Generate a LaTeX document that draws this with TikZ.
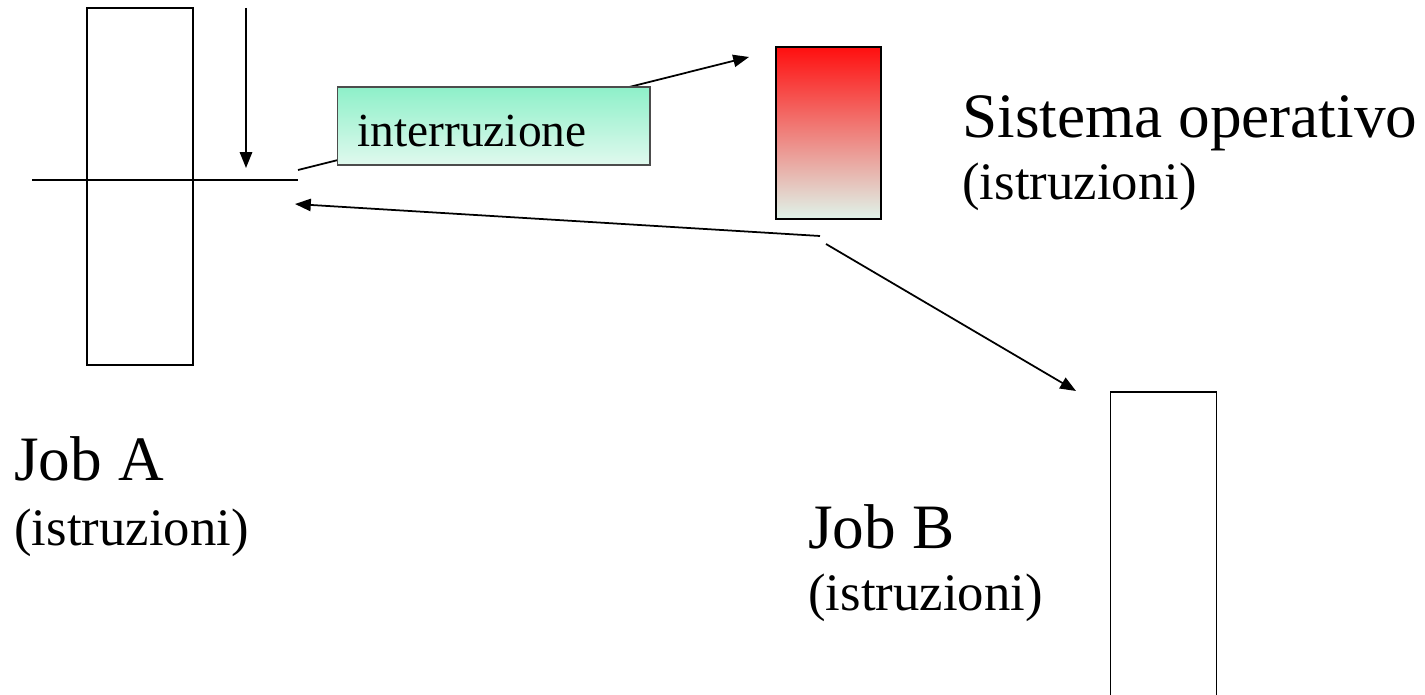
\documentclass[tikz,border=0pt]{standalone}
\usepackage{fontspec}
\setmainfont{Liberation Serif}
\usetikzlibrary{arrows.meta}

\definecolor{irqtop}{HTML}{8EF0C9}
\definecolor{irqbot}{HTML}{E0F9EE}
\definecolor{ostop}{HTML}{FF0F0F}
\definecolor{osbot}{HTML}{DFF4EA}

\tikzset{
  job/.style={draw, line width=1pt, inner sep=0pt, minimum width=2.12cm},
  lbl/.style={inner sep=0pt, anchor=base west},
  arr/.style={line width=1pt, -{Triangle[length=9pt,width=7pt]}}
}

\begin{document}
\begin{tikzpicture}[x=0.02cm,y=-0.02cm]
\useasboundingbox (0,0) rectangle (1425,695);

% draw job boxes
\node[job, minimum height=7.14cm] (jobA) at (140,186.5) {};
\node[job, minimum height=6.16cm] (jobB) at (1163.5,546) {};
\node[job, minimum width=2.1cm, minimum height=3.44cm,
      top color=ostop, bottom color=osbot] (os) at (828.5,133) {};

% draw the point where job A is stopped
\coordinate (cutL) at (32,180);
\coordinate (cutR) at (298,180);
\draw[line width=1pt] (cutL) -- (cutR);
\coordinate (runtop) at (246,8);
\coordinate (runend) at (246,168);
\draw[arr] (runtop) -- (runend);

% draw arrows
\coordinate (irqfrom) at (298,170);
\coordinate (irqto) at (749,57);
\draw[arr] (irqfrom) -- (irqto);
\coordinate (back1) at (820,236);
\coordinate (back2) at (295,204);
\draw[arr] (back1) -- (back2);
\coordinate (go1) at (826,244);
\coordinate (go2) at (1076,391);
\draw[arr] (go1) -- (go2);

% draw interrupt box
\node[draw=black!70, line width=0.6pt, minimum width=6.26cm, minimum height=1.56cm,
      top color=irqtop, bottom color=irqbot] (irq) at (493.5,126) {};
\node[lbl, font=\fontsize{27}{30}\selectfont] (irqtxt) at (357,147) {interruzione};

% draw labels
\node[lbl, font=\fontsize{36}{40}\selectfont] (osname) at (962,138) {Sistema operativo};
\node[lbl, font=\fontsize{30}{34}\selectfont] (osins) at (962,200) {(istruzioni)};
\node[lbl, font=\fontsize{36}{40}\selectfont] (jAname) at (14,480) {Job A};
\node[lbl, font=\fontsize{30}{34}\selectfont] (jAins) at (14,545) {(istruzioni)};
\node[lbl, font=\fontsize{36}{40}\selectfont] (jBname) at (808,548) {Job B};
\node[lbl, font=\fontsize{30}{34}\selectfont] (jBins) at (808,610) {(istruzioni)};

\end{tikzpicture}
\end{document}
